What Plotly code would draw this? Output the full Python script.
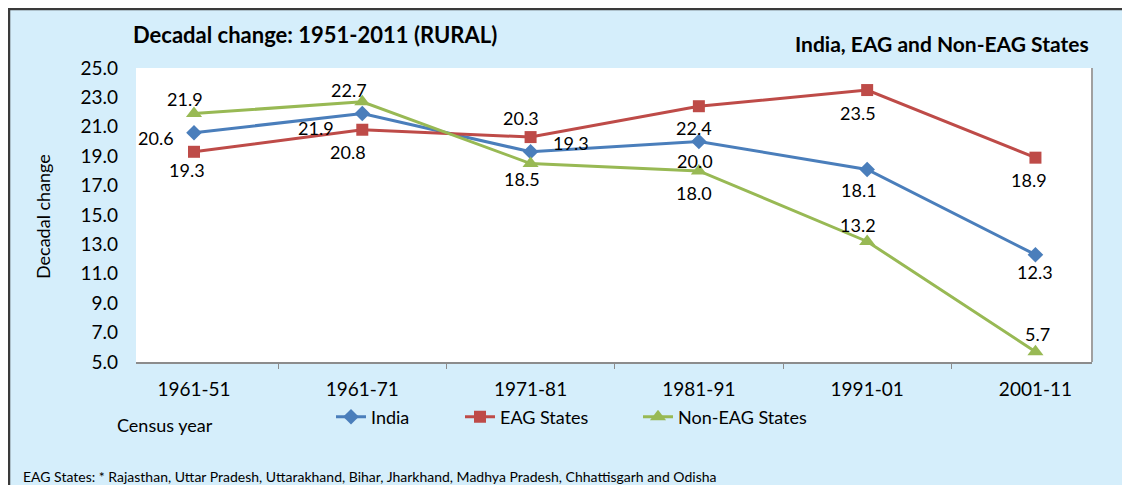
import plotly.graph_objects as go

categories = ["1961-51", "1961-71", "1971-81", "1981-91", "1991-01", "2001-11"]
india = [20.6, 21.9, 19.3, 20.0, 18.1, 12.3]
eag = [19.3, 20.8, 20.3, 22.4, 23.5, 18.9]
non_eag = [21.9, 22.7, 18.5, 18.0, 13.2, 5.7]

# label offsets (px) relative to each point: (xshift, yshift)
india_off = [(-38, -5), (-46, -14), (40, 9), (-4, -19), (-8, -21), (0, -17)]
eag_off = [(-7, -18), (-14, -22), (-10, 19), (-5, -22), (-9, -23), (-6, -22)]
non_off = [(-9, 15), (-13, 12), (-9, -15), (-5, -22), (-9, 16), (2, 18)]

FONT = "Lato"
OFF = 8  # page body margin
W, H = 1130 - OFF, 485 - OFF
L, R, T, B = 136 - OFF, 1092 - OFF, 68 - OFF, 362 - OFF  # plot area in figure px


def px(x):
    return (x - L) / (R - L)


def py(y):
    return (B - y) / (B - T)


fig = go.Figure()
series = [
    ("India", india, "#4A7EBB", "diamond", 12, india_off, "legend"),
    ("EAG States", eag, "#BE4B48", "square", 12, eag_off, "legend2"),
    ("Non-EAG States", non_eag, "#98B954", "triangle-up", 14, non_off, "legend3"),
]
annotations = []
for name, vals, col, sym, sz, offs, lg in series:
    fig.add_trace(go.Scatter(
        x=categories, y=vals, name=name, mode="lines+markers",
        line=dict(color=col, width=3),
        marker=dict(symbol=sym, size=sz, color=col),
        cliponaxis=False, legend=lg,
    ))
    for c, v, (dx, dy) in zip(categories, vals, offs):
        annotations.append(dict(
            x=c, y=v, xref="x", yref="y", text=f"{v:.1f}", showarrow=False,
            xshift=dx, yshift=dy, font=dict(family=FONT, size=18, color="#000000"),
        ))

legend_common = dict(orientation="h", xanchor="left", yanchor="middle", y=py(417 - OFF),
                     bgcolor="rgba(0,0,0,0)", font=dict(size=18, family=FONT))

annotations += [
    dict(text="<b>Decadal change: 1951-2011 (RURAL)</b>", xref="paper", yref="paper",
         x=px(131 - OFF), y=py(34 - OFF), xanchor="left", yanchor="middle", showarrow=False,
         font=dict(size=22, family=FONT)),
    dict(text="<b>India, EAG and Non-EAG States</b>", xref="paper", yref="paper",
         x=px(1091 - OFF), y=py(44 - OFF), xanchor="right", yanchor="middle", showarrow=False,
         font=dict(size=21, family=FONT)),
    dict(text="Decadal change", xref="paper", yref="paper", textangle=-90,
         x=px(43 - OFF), y=py(217 - OFF), xanchor="center", yanchor="middle", showarrow=False,
         font=dict(size=18, family=FONT)),
    dict(text="Census year", xref="paper", yref="paper",
         x=px(115 - OFF), y=py(425 - OFF), xanchor="left", yanchor="middle", showarrow=False,
         font=dict(size=18, family=FONT)),
    dict(text="EAG States: * Rajasthan, Uttar Pradesh, Uttarakhand, Bihar, Jharkhand, Madhya Pradesh, Chhattisgarh and Odisha",
         xref="paper", yref="paper",
         x=px(21 - OFF), y=py(476 - OFF), xanchor="left", yanchor="middle", showarrow=False,
         font=dict(size=14, family=FONT)),
]

fig.update_layout(
    width=W, height=H,
    margin=dict(l=L, r=W - R, t=T, b=H - B),
    paper_bgcolor="#D5EEFB",
    plot_bgcolor="#FFFFFF",
    font=dict(family=FONT, size=18, color="#000000"),
    showlegend=True,
    legend=dict(x=px(331 - OFF), **legend_common),
    legend2=dict(x=px(460 - OFF), **legend_common),
    legend3=dict(x=px(638 - OFF), **legend_common),
    xaxis=dict(type="category", showgrid=False, showline=True, linecolor="#8C8C8C", linewidth=2,
               ticks="outside", tickson="boundaries", ticklen=5, tickcolor="#8C8C8C",
               tickfont=dict(size=19), ticklabelstandoff=9, zeroline=False),
    yaxis=dict(range=[5, 25], dtick=2, tick0=5, tickformat=".1f", showgrid=False, showline=False,
               zeroline=False, ticks="", tickfont=dict(size=19), ticklabelstandoff=17),
    shapes=[
        dict(type="line", xref="paper", yref="paper", x0=1, x1=1, y0=0, y1=1,
             line=dict(color="#A0A0A0", width=2)),
        dict(type="line", xref="paper", yref="paper", x0=px(0), x1=px(W), y0=py(1), y1=py(1),
             line=dict(color="#3A3A3A", width=2.5)),
        dict(type="line", xref="paper", yref="paper", x0=px(1), x1=px(1), y0=py(0), y1=py(H),
             line=dict(color="#3A3A3A", width=2.5)),
    ],
    annotations=annotations,
)

fig.write_html("out.html")
